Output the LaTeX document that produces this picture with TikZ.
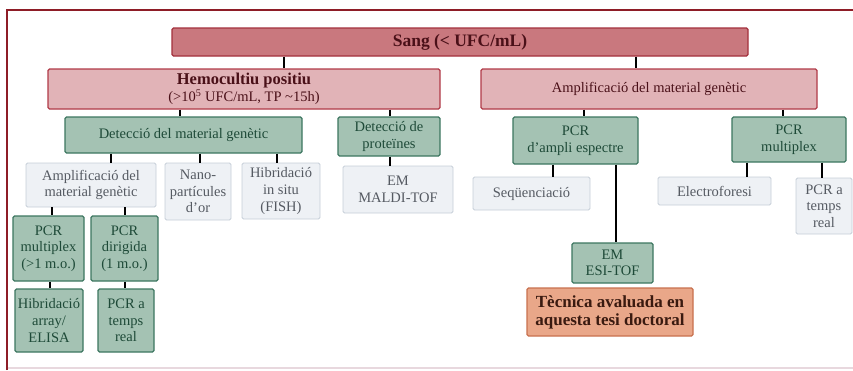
\documentclass[tikz,border=0pt]{standalone}
\usepackage{fontspec}
\setmainfont{Liberation Serif}
\definecolor{frameRed}{HTML}{8E1D27}
\definecolor{sangFill}{HTML}{C9787E}
\definecolor{sangLine}{HTML}{A3303C}
\definecolor{pinkFill}{HTML}{E1B3B7}
\definecolor{pinkLine}{HTML}{B03A48}
\definecolor{pinkText}{HTML}{4A1018}
\definecolor{grFill}{HTML}{A4C2B3}
\definecolor{grLine}{HTML}{3C7660}
\definecolor{grText}{HTML}{1E4A38}
\definecolor{ltFill}{HTML}{EEF1F5}
\definecolor{ltLine}{HTML}{C6CED8}
\definecolor{ltText}{HTML}{555A62}
\definecolor{orFill}{HTML}{E9A789}
\definecolor{orLine}{HTML}{C8704E}
\definecolor{orText}{HTML}{3A1A10}
\definecolor{botLine}{HTML}{E8D8DE}
\begin{document}
\begin{tikzpicture}[x=1pt,y=-1pt,
  base/.style={rectangle, rounded corners=1.5pt, inner sep=0pt, align=center, line width=1.2pt,
    font=\fontsize{14.5}{16.6}\selectfont},
  sangbox/.style={base, fill=sangFill, draw=sangLine, text=pinkText, font=\fontsize{17.5}{19}\selectfont\bfseries},
  pinkbox/.style={base, fill=pinkFill, draw=pinkLine, text=pinkText},
  greenbox/.style={base, fill=grFill, draw=grLine, text=grText},
  lightbox/.style={base, fill=ltFill, draw=ltLine, line width=0.8pt, text=ltText},
  orangebox/.style={base, fill=orFill, draw=orLine, text=orText, font=\fontsize{17}{17.8}\selectfont\bfseries},
  conn/.style={draw=black, line width=1.6pt},
  wh/.style 2 args={minimum width=#1pt, minimum height=#2pt}]
\useasboundingbox (0,0) rectangle (853,370);
% frame
\draw[botLine, line width=1.2pt] (7,368) -- (853,368);
\draw[frameRed, line width=2.6pt] (7,370) -- (7,10) -- (853,10);

% nodes
\node[sangbox, wh={576}{28}] (sang) at (460,42) {Sang (< UFC/mL)};
\node[pinkbox, wh={392}{40}] (hemo) at (244,89) {\textbf{\fontsize{16.5}{16.5}\selectfont Hemocultiu positiu}\\(>10\textsuperscript{5} UFC/mL, TP \textasciitilde15h)};
\node[pinkbox, wh={336}{40}] (ampR) at (649,89) {Amplificació del material genètic};
\node[greenbox, wh={237}{36}] (detg) at (183.5,135) {Detecció del material genètic};
\node[greenbox, wh={102}{39}] (detp) at (389,136.5) {Detecció de\\proteïnes};
\node[lightbox, wh={130}{44}] (amplL) at (91,185) {Amplificació del\\material genètic};
\node[lightbox, wh={66}{57}] (nano) at (198,191.5) {Nano-\\partícules\\d'or};
\node[lightbox, wh={78}{56}] (fish) at (281,191) {Hibridació\\in situ\\(FISH)};
\node[lightbox, wh={110}{47}] (maldi) at (398,189.5) {EM\\MALDI-TOF};
\node[greenbox, wh={71}{65}] (pcrm) at (48.5,248.5) {PCR\\multiplex\\(>1 m.o.)};
\node[greenbox, wh={67}{65}] (pcrd) at (124.5,248.5) {PCR\\dirigida\\(1 m.o.)};
\node[greenbox, wh={68}{63}] (hib) at (49,320.5) {Hibridació\\array/\\ELISA};
\node[greenbox, wh={56}{63}] (ptr) at (126,320.5) {PCR a\\temps\\real};
\node[greenbox, wh={125}{47}] (pcra) at (575.5,140.5) {PCR\\d'ampli espectre};
\node[greenbox, wh={114}{45}] (pcrmR) at (789,139.5) {PCR\\multiplex};
\node[lightbox, wh={117}{33}] (seq) at (531.5,193.5) {Seqüenciació};
\node[greenbox, wh={81}{40}] (esi) at (612.5,263) {EM\\ESI-TOF};
\node[orangebox, wh={166}{48}] (tec) at (610,312) {Tècnica avaluada en\\aquesta tesi doctoral};
\node[lightbox, wh={113}{28}] (elec) at (714.5,191) {Electroforesi};
\node[lightbox, wh={56}{56}] (ptrR) at (824,206) {PCR a\\temps\\real};

% connectors
\draw[conn] (sang.south -| 284,0) -- (hemo.north -| 284,0);
\draw[conn] (sang.south -| 636,0) -- (ampR.north -| 636,0);
\draw[conn] (hemo.south -| 180,0) -- (detg.north -| 180,0);
\draw[conn] (hemo.south -| 390,0) -- (detp.north -| 390,0);
\draw[conn] (detg.south -| 111,0) -- (amplL.north -| 111,0);
\draw[conn] (detg.south -| 200,0) -- (nano.north -| 200,0);
\draw[conn] (detg.south -| 277,0) -- (fish.north -| 277,0);
\draw[conn] (detp.south -| 390,0) -- (maldi.north -| 390,0);
\draw[conn] (amplL.south -| 52,0) -- (pcrm.north -| 52,0);
\draw[conn] (amplL.south -| 125,0) -- (pcrd.north -| 125,0);
\draw[conn] (pcrm.south -| 50,0) -- (hib.north -| 50,0);
\draw[conn] (pcrd.south -| 125,0) -- (ptr.north -| 125,0);
\draw[conn] (ampR.south -| 584,0) -- (pcra.north -| 584,0);
\draw[conn] (ampR.south -| 783,0) -- (pcrmR.north -| 783,0);
\draw[conn] (pcra.south -| 553,0) -- (seq.north -| 553,0);
\draw[conn] (pcra.south -| 616,0) -- (esi.north -| 616,0);
\draw[conn] (pcrmR.south -| 747,0) -- (elec.north -| 747,0);
\draw[conn] (pcrmR.south -| 822,0) -- (ptrR.north -| 822,0);
\end{tikzpicture}
\end{document}
